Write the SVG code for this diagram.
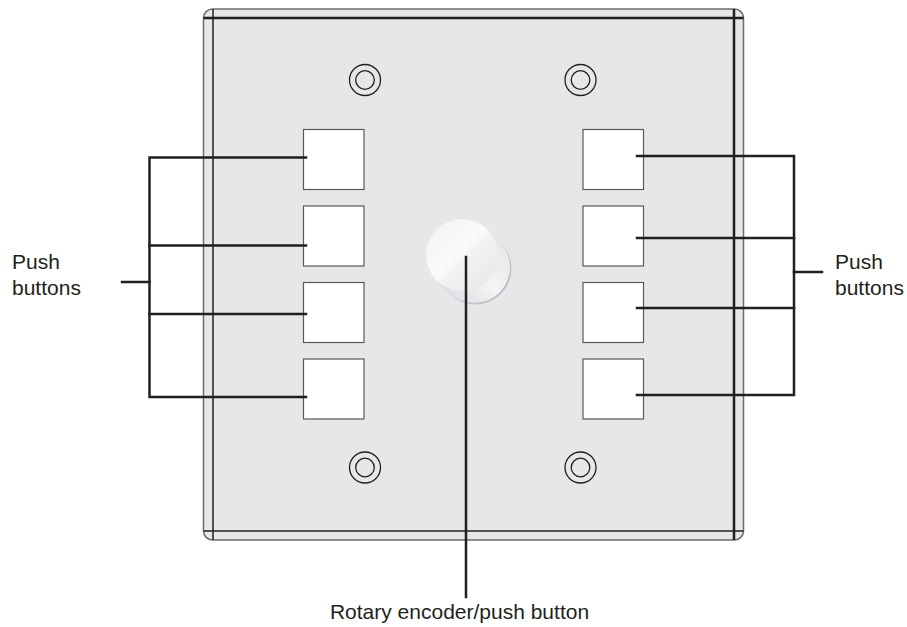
<svg xmlns="http://www.w3.org/2000/svg" width="907" height="627" viewBox="0 0 907 627">
<defs>
<style>
.plate{fill:#e6e7e8;stroke:#6d6e70;stroke-width:1.5}
.edge{stroke:#231f20;fill:none}
.btn{fill:#ffffff;stroke:#58595b;stroke-width:1.2}
.screw{fill:none;stroke:#231f20;stroke-width:1.3}
.lead{stroke:#231f20;stroke-width:2.5;fill:none;stroke-linecap:square}
.lbl{font-family:"Liberation Sans",Arial,Helvetica,sans-serif;font-size:21px;fill:#231f20}
</style>
<linearGradient id="face" x1="0" y1="0" x2="1" y2="1">
<stop offset="0" stop-color="#eef0f1"/>
<stop offset="0.45" stop-color="#fbfbfc"/>
<stop offset="0.55" stop-color="#f2f3f4"/>
<stop offset="1" stop-color="#e2e4e6"/>
</linearGradient>
<linearGradient id="side" x1="0" y1="1" x2="1" y2="0">
<stop offset="0" stop-color="#d5d8db"/>
<stop offset="0.5" stop-color="#f3f4f5"/>
<stop offset="1" stop-color="#e1e3e5"/>
</linearGradient>
</defs>
<rect width="907" height="627" fill="#ffffff"/>
<g id="plate">
<rect class="plate" x="203.5" y="9" width="540" height="531" rx="9"/>
<line class="edge" x1="213" y1="9" x2="213" y2="540" stroke-width="1.5"/>
<line class="edge" x1="734" y1="9" x2="734" y2="540" stroke-width="2.5"/>
<line class="edge" x1="203.5" y1="18" x2="743.5" y2="18" stroke-width="2.5"/>
<line class="edge" x1="203.5" y1="531" x2="743.5" y2="531" stroke-width="1.5"/>
</g>
<g id="screws">
<g id="screw-tl"><circle class="screw" cx="365" cy="80" r="15.5"/><circle class="screw" cx="365" cy="80" r="9.3"/></g>
<g id="screw-tr"><circle class="screw" cx="580.5" cy="80" r="15.5"/><circle class="screw" cx="580.5" cy="80" r="9.3"/></g>
<g id="screw-bl"><circle class="screw" cx="365" cy="467.5" r="15.5"/><circle class="screw" cx="365" cy="467.5" r="9.3"/></g>
<g id="screw-br"><circle class="screw" cx="580.5" cy="467.5" r="15.5"/><circle class="screw" cx="580.5" cy="467.5" r="9.3"/></g>
</g>
<g id="buttons-left">
<rect id="btn-l1" class="btn" x="303.5" y="129.5" width="60.5" height="60"/>
<rect id="btn-l2" class="btn" x="303.5" y="206" width="60.5" height="60"/>
<rect id="btn-l3" class="btn" x="303.5" y="282.5" width="60.5" height="60"/>
<rect id="btn-l4" class="btn" x="303.5" y="359" width="60.5" height="60"/>
</g>
<g id="buttons-right">
<rect id="btn-r1" class="btn" x="583" y="129.5" width="60.5" height="60"/>
<rect id="btn-r2" class="btn" x="583" y="206" width="60.5" height="60"/>
<rect id="btn-r3" class="btn" x="583" y="282.5" width="60.5" height="60"/>
<rect id="btn-r4" class="btn" x="583" y="359" width="60.5" height="60"/>
</g>
<g id="knob">
<circle cx="475.5" cy="268.5" r="36" fill="#bfc2c5"/>
<polygon points="487.5,229.5 499,241 449,294 437.5,282.5" fill="url(#side)"/>
<circle cx="474" cy="267" r="36" fill="url(#side)"/>
<circle cx="462" cy="255" r="36" fill="url(#face)"/>
</g>
<g id="connectors">
<polyline class="lead" points="306,157.5 149.5,157.5 149.5,397 306,397"/>
<line class="lead" x1="149.5" y1="245.5" x2="306" y2="245.5"/>
<line class="lead" x1="149.5" y1="314" x2="306" y2="314"/>
<line class="lead" x1="122" y1="282" x2="149.5" y2="282"/>
<polyline class="lead" points="637,156 794,156 794,395 637,395"/>
<line class="lead" x1="637" y1="238" x2="794" y2="238"/>
<line class="lead" x1="637" y1="308" x2="794" y2="308"/>
<line class="lead" x1="794" y1="272" x2="822" y2="272"/>
<line class="lead" x1="466" y1="257" x2="466" y2="597"/>
</g>
<g id="labels">
<text class="lbl" x="12" y="269">Push</text>
<text class="lbl" x="12" y="295">buttons</text>
<text class="lbl" x="835" y="269">Push</text>
<text class="lbl" x="835" y="295">buttons</text>
<text class="lbl" x="459.5" y="619" text-anchor="middle">Rotary encoder/push button</text>
</g>
</svg>
